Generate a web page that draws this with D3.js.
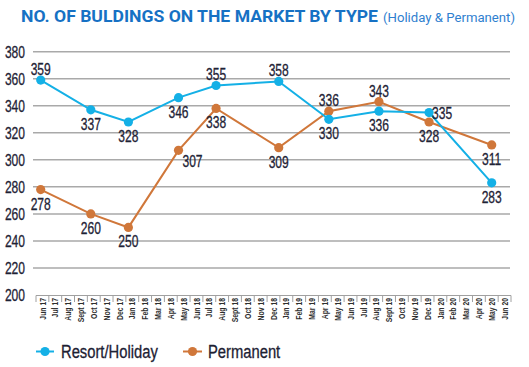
<!DOCTYPE html>
<html>
<head>
<meta charset="utf-8">
<script src="https://cdn.jsdelivr.net/npm/d3@7"></script>
<style>
  html, body { margin: 0; padding: 0; background: #fff; }
  svg { display: block; }
</style>
</head>
<body>
<svg id="chart" width="529" height="367"></svg>
<script>
// ---- data ----
const months = ["Jun 17","Jul 17","Aug 17","Sept 17","Oct 17","Nov 17","Dec 17","Jan 18","Feb 18","Mar 18","Apr 18","May 18",
  "Jun 18","Jul 18","Aug 18","Sept 18","Oct 18","Nov 18","Dec 18","Jan 19","Feb 19","Mar 19","Apr 19","May 19",
  "Jun 19","Jul 19","Aug 19","Sept 19","Oct 19","Nov 19","Dec 19","Jan 20","Feb 20","Mar 20","Apr 20","May 20","Jun 20"];
const pointMonths = ["Jun 17","Oct 17","Jan 18","May 18","Aug 18","Jan 19","May 19","Sept 19","Jan 20","Jun 20"];
const resort = [359,337,328,346,355,358,330,336,335,283];
const permanent = [278,260,250,307,338,309,336,343,328,311];
const yTicks = [200,220,240,260,280,300,320,340,360,380];
const seriesNames = ["Resort/Holiday","Permanent"];
const titleText = "NO. OF BULDINGS ON THE MARKET BY TYPE";
const subtitleText = "(Holiday & Permanent)";

// ---- label placement (style) ----
const resortLabelPos = ["above","below","below","below","above","above","below","below","right","below"];
const permLabelPos   = ["below","below","below","belowright","below","below","above","above","below","below"];

const colors = ["#14b0e6", "#d0773a"];
const FONT = "'Liberation Sans', Arial, sans-serif";
const INK = "#1e2235";

const svg = d3.select("#chart");

// condense text horizontally (reference uses a condensed face)
function condense(sel, f) {
  sel.each(function() {
    const w = this.getComputedTextLength();
    d3.select(this).attr("textLength", w * f).attr("lengthAdjust", "spacingAndGlyphs");
  });
}

// scales
const x = d3.scalePoint().domain(months).range([40.7, 491.7]);
const xTable = d3.scaleBand().domain(months).range([36, 511]);
const y = d3.scaleLinear().domain([200, 380]).range([295, 51.7]);

// title
svg.append("text")
  .attr("x", 21).attr("y", 22)
  .attr("font-family", "Roboto, 'Liberation Sans', sans-serif")
  .attr("font-weight", 700).attr("font-size", 17)
  .attr("fill", "#1671c4")
  .attr("textLength", 357).attr("lengthAdjust", "spacingAndGlyphs")
  .text(titleText);
svg.append("text")
  .attr("x", 383).attr("y", 21.5)
  .attr("font-family", "Roboto, 'Liberation Sans', sans-serif")
  .attr("font-size", 12)
  .attr("fill", "#2f80cf")
  .attr("textLength", 132).attr("lengthAdjust", "spacingAndGlyphs")
  .text(subtitleText);

// gridlines
const grid = svg.append("g");
yTicks.filter(t => t > 200).forEach(t => {
  grid.append("line")
    .attr("x1", 33).attr("x2", 510)
    .attr("y1", y(t)).attr("y2", y(t))
    .attr("stroke", "#a9a9a9").attr("stroke-width", 1.5);
});

// y axis labels
const yAxis = d3.axisLeft(y).tickValues(yTicks).tickSize(0).tickPadding(0);
const yg = svg.append("g").attr("transform", "translate(25,0)").call(yAxis);
yg.select(".domain").remove();
yg.selectAll("text")
  .attr("font-family", FONT).attr("font-size", 16.5)
  .attr("fill", INK).attr("stroke", INK).attr("stroke-width", 0.3)
  .attr("dy", "0.36em");
condense(yg.selectAll("text"), 0.73);

// x label table
const tg = svg.append("g");
tg.append("line").attr("x1", 36).attr("x2", 511).attr("y1", 295.5).attr("y2", 295.5)
  .attr("stroke", "#a0a0a0").attr("stroke-width", 1.2);
const bounds = months.map(m => xTable(m)).concat([xTable.range()[1]]);
bounds.forEach(b => {
  tg.append("line").attr("x1", b).attr("x2", b).attr("y1", 295.5).attr("y2", 302)
    .attr("stroke", "#a0a0a0").attr("stroke-width", 1);
});
const xAxis = d3.axisBottom(xTable).tickSize(0).tickPadding(0);
const xg = svg.append("g").call(xAxis);
xg.select(".domain").remove();
xg.selectAll(".tick").attr("transform", d => `translate(${xTable(d) + xTable.bandwidth()/2},298)`);
xg.selectAll("text")
  .attr("font-family", FONT).attr("font-size", 9).attr("font-weight", 700)
  .attr("fill", "#2e2e2e")
  .attr("text-anchor", "end")
  .attr("transform", "rotate(-90)")
  .attr("x", 0).attr("y", 0).attr("dx", 0).attr("dy", "0.35em");
condense(xg.selectAll("text"), 0.76);

// series
const series = [
  { name: seriesNames[0], values: resort, color: colors[0], pos: resortLabelPos },
  { name: seriesNames[1], values: permanent, color: colors[1], pos: permLabelPos }
];
const line = d3.line().x((d, i) => x(pointMonths[i])).y(d => y(d));

[series[1], series[0]].forEach(s => {
  const g = svg.append("g");
  g.append("path").datum(s.values)
    .attr("d", line).attr("fill", "none")
    .attr("stroke", s.color).attr("stroke-width", 2);
  g.selectAll("circle").data(s.values).join("circle")
    .attr("cx", (d, i) => x(pointMonths[i])).attr("cy", d => y(d))
    .attr("r", 4.6).attr("fill", s.color);
});

// data labels
series.forEach(s => {
  const t = svg.append("g").selectAll("text").data(s.values).join("text")
    .attr("font-family", FONT).attr("font-size", 16.5)
    .attr("fill", INK).attr("stroke", INK).attr("stroke-width", 0.3)
    .attr("text-anchor", (d, i) => s.pos[i] === "right" ? "start" : "middle")
    .attr("x", (d, i) => {
      const cx = x(pointMonths[i]);
      if (s.pos[i] === "right") return cx + 3;
      if (s.pos[i] === "belowright") return cx + 14;
      return cx;
    })
    .attr("y", (d, i) => {
      const cy = y(d);
      if (s.pos[i] === "above") return cy - 5;
      if (s.pos[i] === "right") return cy + 6;
      if (s.pos[i] === "belowright") return cy + 17;
      return cy + 20;
    })
    .text(d => d);
  condense(t, 0.73);
});

// legend
const legendItems = [
  { name: seriesNames[0], color: colors[0], x1: 36, x2: 54, tx: 61 },
  { name: seriesNames[1], color: colors[1], x1: 183, x2: 202, tx: 208 }
];
legendItems.forEach(l => {
  const g = svg.append("g");
  g.append("line").attr("x1", l.x1).attr("x2", l.x2).attr("y1", 351.5).attr("y2", 351.5)
    .attr("stroke", l.color).attr("stroke-width", 2);
  g.append("circle").attr("cx", (l.x1 + l.x2) / 2).attr("cy", 351.5).attr("r", 4.6).attr("fill", l.color);
  const t = g.append("text").attr("x", l.tx).attr("y", 357.5)
    .attr("font-family", FONT).attr("font-size", 18)
    .attr("fill", "#1d2133").attr("stroke", "#1d2133").attr("stroke-width", 0.3)
    .text(l.name);
  condense(t, 0.82);
});
</script>
</body>
</html>
